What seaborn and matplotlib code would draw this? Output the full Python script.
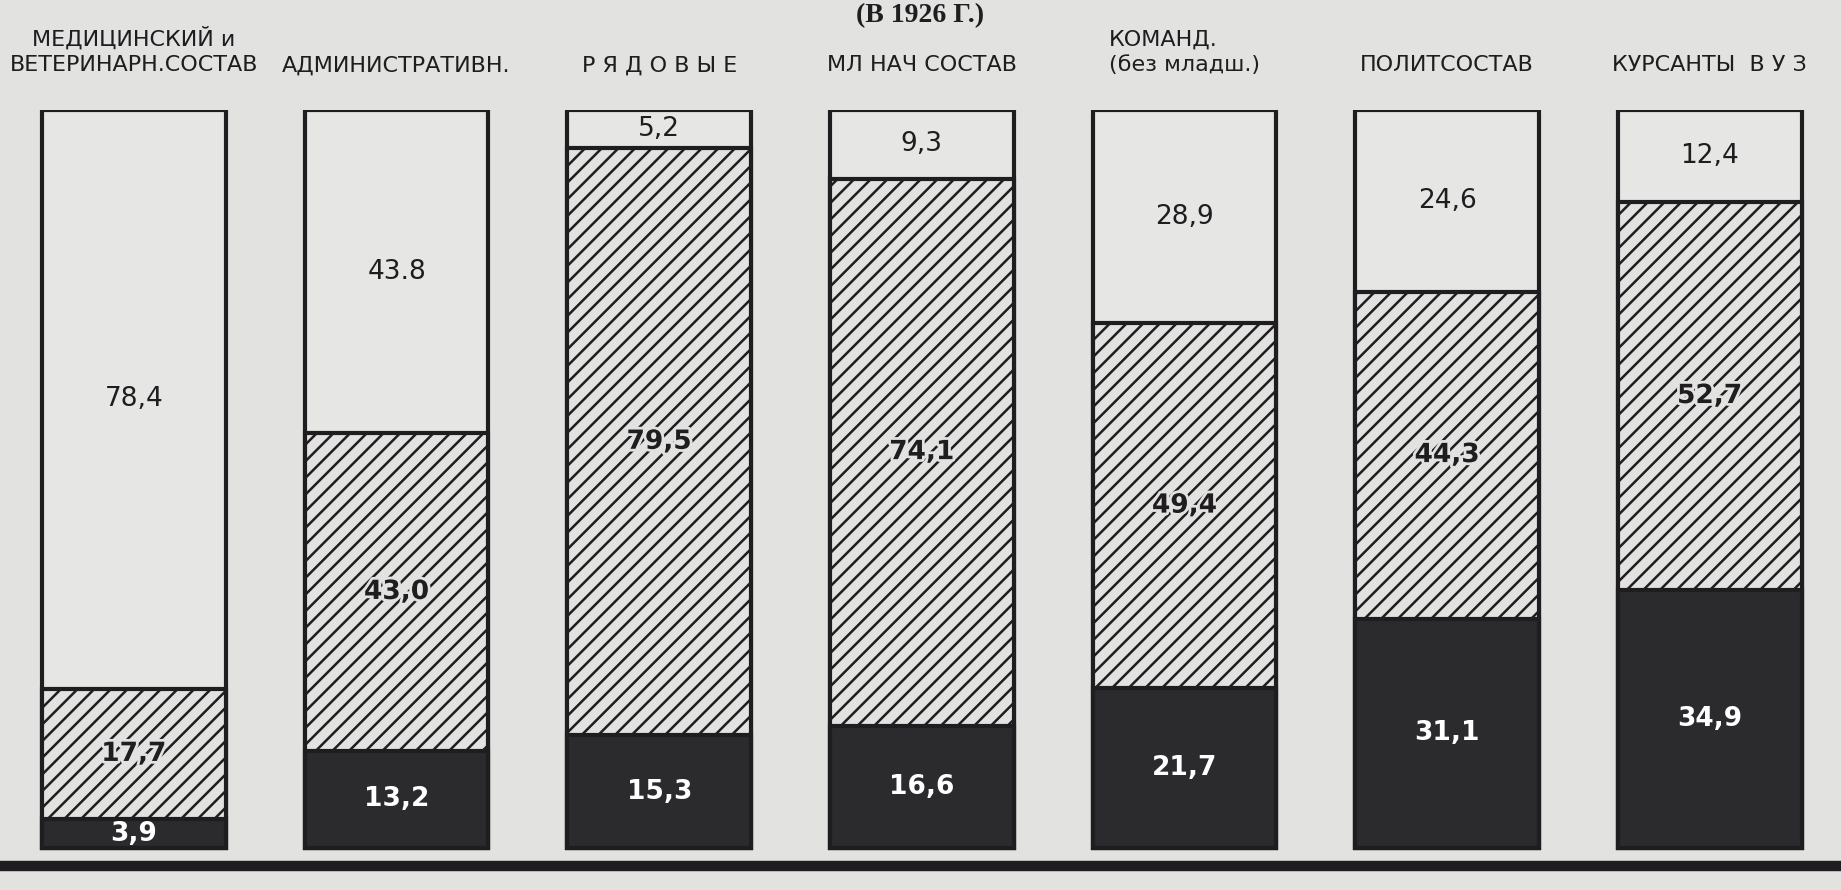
import matplotlib
matplotlib.use("Agg")
import matplotlib.pyplot as plt
import matplotlib.patheffects as pe
import pandas as pd
import seaborn as sns

# Personnel groups and the shares (%) of their three strata, bottom to top
categories = [
    "МЕДИЦИНСКИЙ и\nВЕТЕРИНАРН.СОСТАВ",
    "АДМИНИСТРАТИВН.",
    "Р Я Д О В Ы Е",
    "МЛ НАЧ СОСТАВ",
    "КОМАНД.\n(без младш.)",
    "ПОЛИТСОСТАВ",
    "КУРСАНТЫ  В У З",
]
bottom_share = [3.9, 13.2, 15.3, 16.6, 21.7, 31.1, 34.9]
middle_share = [17.7, 43.0, 79.5, 74.1, 49.4, 44.3, 52.7]
top_share = [78.4, 43.8, 5.2, 9.3, 28.9, 24.6, 12.4]
top_decimal_sep = [",", ".", ",", ",", ",", ",", ","]
title = "(В 1926 Г.)"

PAPER = "#e2e2e0"
TOP_FILL = "#e6e6e4"
DARK = "#2b2a2d"
INK = "#1f1d20"

sns.set_theme(style="white")
plt.rcParams["font.family"] = ["DejaVu Sans"]
plt.rcParams["hatch.linewidth"] = 1.8
plt.rcParams["hatch.color"] = INK

df = pd.DataFrame({"group": categories,
                   "bottom": bottom_share,
                   "middle": middle_share,
                   "top": top_share})
df["lower"] = df["bottom"] + df["middle"]
df["total"] = df["lower"] + df["top"]

fig = plt.figure(figsize=(18.41, 8.90), dpi=100, facecolor=PAPER)
ax = fig.add_axes([0, 0.0057, 1, 0.8706])

bar_kw = dict(data=df, x="group", width=0.70, edgecolor=INK, linewidth=3,
              saturation=1, errorbar=None, ax=ax)
# Stack by overlaying cumulative heights, tallest first
sns.barplot(y="total", color=TOP_FILL, **bar_kw)
sns.barplot(y="lower", color=PAPER, hatch="//", **bar_kw)
sns.barplot(y="bottom", color=DARK, **bar_kw)

ax.axhline(-2.44, color=INK, lw=7.5, zorder=0)

ax.set_xlim(-0.51, 6.50)
ax.set_ylim(-5, 100)
ax.set_axis_off()

halo = [pe.withStroke(linewidth=4, foreground=PAPER)]
for i, row in df.iterrows():
    ax.text(i, (row["lower"] + row["total"]) / 2,
            f"{row['top']:.1f}".replace(".", top_decimal_sep[i]),
            ha="center", va="center", fontsize=19, color=INK)
    ax.text(i, (row["bottom"] + row["lower"]) / 2,
            f"{row['middle']:.1f}".replace(".", ","),
            ha="center", va="center", fontsize=19, color=INK,
            fontweight="bold", path_effects=halo)
    ax.text(i, row["bottom"] / 2,
            f"{row['bottom']:.1f}".replace(".", ","),
            ha="center", va="center", fontsize=19, color="white",
            fontweight="bold")

xform = ax.get_xaxis_transform()
for i, name in enumerate(categories):
    ax.text(i, 1.045, name, transform=xform, ha="center", va="bottom",
            multialignment="left" if name.startswith("КОМАНД") else "center",
            fontsize=16, color=INK, linespacing=1.35)

fig.text(0.4997, 1 - 3 / 890, title, ha="center", va="top",
         fontsize=20, fontweight="bold", family=["Liberation Serif", "DejaVu Serif"],
         color=INK)

fig.savefig("out.png", dpi=100, facecolor=PAPER)
